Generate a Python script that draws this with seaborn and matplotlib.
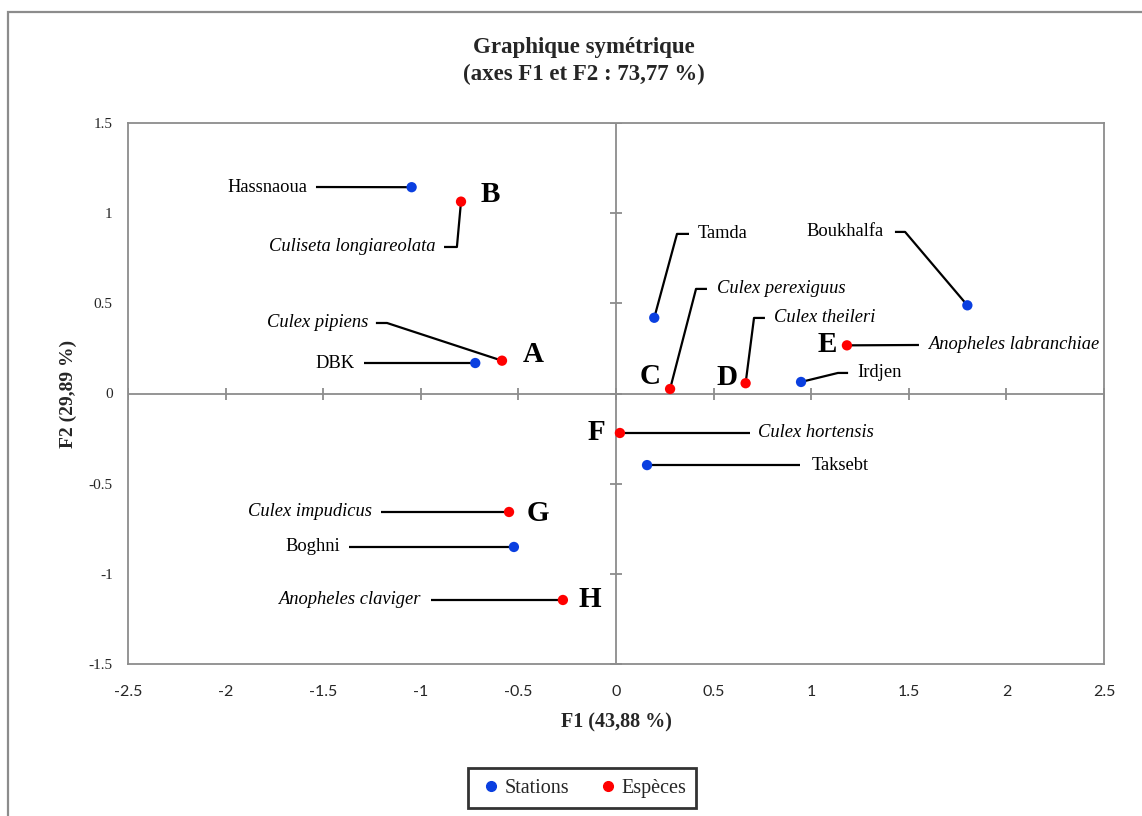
import matplotlib
matplotlib.use("Agg")
import matplotlib.pyplot as plt
import seaborn as sns
import pandas as pd
from matplotlib.patches import Rectangle
from matplotlib.lines import Line2D

# ---------------- data ----------------
station_names = ["Hassnaoua", "DBK", "Tamda", "Boukhalfa", "Irdjen", "Taksebt", "Boghni"]
station_f1 = [-1.047, -0.721, 0.196, 1.800, 0.948, 0.159, -0.523]
station_f2 = [1.144, 0.169, 0.420, 0.489, 0.064, -0.397, -0.851]

species_names = ["Culiseta longiareolata", "Culex pipiens", "Culex perexiguus", "Culex theileri",
                 "Anopheles labranchiae", "Culex hortensis", "Culex impudicus", "Anopheles claviger"]
species_letters = ["B", "A", "C", "D", "E", "F", "G", "H"]
species_f1 = [-0.794, -0.584, 0.277, 0.664, 1.183, 0.020, -0.548, -0.272]
species_f2 = [1.064, 0.182, 0.025, 0.057, 0.267, -0.219, -0.657, -1.145]

x_ticks = [-2.5, -2, -1.5, -1, -0.5, 0, 0.5, 1, 1.5, 2, 2.5]
y_ticks = [-1.5, -1, -0.5, 0, 0.5, 1, 1.5]

title = "Graphique symétrique\n(axes F1 et F2 : 73,77 %)"
xlabel = "F1 (43,88 %)"
ylabel = "F2 (29,89 %)"

# ---------------- label layout (positions of labels / leader lines) ----------------
# name: (elbow or None, line_end, text_x, ha)
station_layout = {
    "Hassnaoua": (None, (-1.537, 1.145), -1.583, "right"),
    "DBK": (None, (-1.291, 0.169), -1.337, "right"),
    "Tamda": ((0.3125, 0.885), (0.374, 0.885), 0.420, "left"),
    "Boukhalfa": ((1.481, 0.896), (1.429, 0.896), 1.373, "right"),
    "Irdjen": ((1.137, 0.114), (1.189, 0.114), 1.235, "left"),
    "Taksebt": (None, (0.943, -0.397), 1.004, "left"),
    "Boghni": (None, (-1.368, -0.851), -1.414, "right"),
}
species_layout = {
    "Culiseta longiareolata": ((-0.815, 0.8125), (-0.881, 0.8125), -0.927, "right"),
    "Culex pipiens": ((-1.173, 0.391), (-1.230, 0.391), -1.270, "right"),
    "Culex perexiguus": ((0.410, 0.580), (0.466, 0.580), 0.517, "left"),
    "Culex theileri": ((0.707, 0.419), (0.763, 0.419), 0.809, "left"),
    "Anopheles labranchiae": (None, (1.552, 0.269), 1.598, "left"),
    "Culex hortensis": (None, (0.686, -0.219), 0.727, "left"),
    "Culex impudicus": (None, (-1.204, -0.657), -1.250, "right"),
    "Anopheles claviger": (None, (-0.948, -1.145), -0.999, "right"),
}
letter_pos = {
    "B": (-0.645, 1.106), "A": (-0.425, 0.219), "C": (0.174, 0.092), "D": (0.569, 0.086),
    "E": (1.081, 0.269), "F": (-0.102, -0.219), "G": (-0.400, -0.668), "H": (-0.133, -1.140),
}

# ---------------- plotting ----------------
sns.set_style("white")
plt.rcParams["font.family"] = ["Liberation Serif", "DejaVu Serif"]

BLUE = "#0A3FE0"
RED = "#FF0000"
GRAY = "#8C8C8C"

fig = plt.figure(figsize=(11.42, 8.16), dpi=100)
ax = fig.add_axes([128 / 1142, 1 - 664 / 816, (1104 - 128) / 1142, (664 - 123) / 816])

# outer frame of the chart area
fig.patches.append(Rectangle((8 / 1142, -0.05), 1.2, 1 - 12 / 816 + 0.05, transform=fig.transFigure,
                             fill=False, edgecolor=GRAY, linewidth=1.6, zorder=0))

ax.set_xlim(-2.5, 2.5)
ax.set_ylim(-1.5, 1.5)

# zero lines
ax.axhline(0, color=GRAY, lw=1.3, zorder=1)
ax.axvline(0, color=GRAY, lw=1.3, zorder=1)
# tick marks crossing the zero lines
ax.plot(x_ticks, [0] * len(x_ticks), ls="none", marker="|", ms=9, mew=1.3, color=GRAY, zorder=1)
ax.plot([0] * len(y_ticks), y_ticks, ls="none", marker="_", ms=9, mew=1.3, color=GRAY, zorder=1)

for s in ax.spines.values():
    s.set_color(GRAY)
    s.set_linewidth(1.3)

# leader lines
def leader(px, py, layout):
    elbow, end, tx, ha = layout
    xs, ys = [px], [py]
    if elbow is not None:
        xs.append(elbow[0]); ys.append(elbow[1])
    xs.append(end[0]); ys.append(end[1])
    ax.plot(xs, ys, color="black", lw=1.6, zorder=2, solid_capstyle="butt")
    return tx, end[1], ha

df_st = pd.DataFrame({"F1": station_f1, "F2": station_f2, "Type": "Stations", "name": station_names})
df_sp = pd.DataFrame({"F1": species_f1, "F2": species_f2, "Type": "Espèces", "name": species_names})
df = pd.concat([df_st, df_sp], ignore_index=True)

for n, x, y in zip(station_names, station_f1, station_f2):
    tx, ty, ha = leader(x, y, station_layout[n])
    ax.text(tx, ty, n, ha=ha, va="center", fontsize=13.3, color="black")

for n, l, x, y in zip(species_names, species_letters, species_f1, species_f2):
    tx, ty, ha = leader(x, y, species_layout[n])
    ax.text(tx, ty, n, ha=ha, va="center", fontsize=13.3, style="italic", color="black")
    lx, ly = letter_pos[l]
    ax.text(lx, ly, l, ha="center", va="center", fontsize=21, fontweight="bold", color="black")

sns.scatterplot(data=df, x="F1", y="F2", hue="Type", palette={"Stations": BLUE, "Espèces": RED},
                s=55, edgecolor="none", linewidth=0, ax=ax, zorder=3, legend=False)

ax.set_xticks(x_ticks)
ax.set_yticks(y_ticks)
ax.set_xticklabels([f"{v:g}" for v in x_ticks], family="Lato", fontsize=11.5)
ax.set_yticklabels([f"{v:g}" for v in y_ticks], fontsize=11)
ax.tick_params(axis="y", length=0, pad=11)
ax.tick_params(axis="x", length=0, pad=15)
ax.set_xlabel(xlabel, fontsize=14.5, fontweight="bold", labelpad=10)
ax.set_ylabel(ylabel, fontsize=14, fontweight="bold", labelpad=8)
fig.text(584 / 1142, 1 - 61 / 816, title, ha="center", va="center", fontsize=16.5,
         fontweight="bold", linespacing=1.35)

handles = [Line2D([], [], ls="none", marker="o", ms=7, color=BLUE, label="Stations"),
           Line2D([], [], ls="none", marker="o", ms=7, color=RED, label="Espèces")]
leg = fig.legend(handles=handles, loc="center", bbox_to_anchor=(582 / 1142, 1 - 788 / 816), ncol=2,
                 frameon=True, fancybox=False, fontsize=14.5, handletextpad=0.0, columnspacing=1.3,
                 borderpad=0.5, handlelength=1.3)
leg.get_frame().set_edgecolor("black")
leg.get_frame().set_linewidth(2.0)

fig.savefig("out.png", dpi=100)
